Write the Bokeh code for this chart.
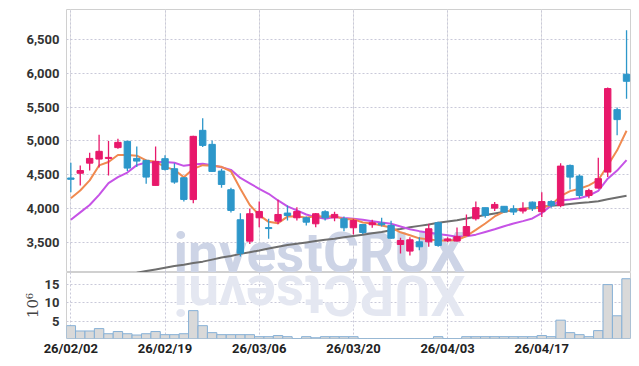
import numpy as np
from bokeh.plotting import figure
from bokeh.models import Range1d, FixedTicker, NumeralTickFormatter, ColumnDataSource, Grid
from bokeh.layouts import column
from bokeh.embed import file_html
from bokeh.resources import INLINE
from bokeh.core.properties import value

# ---------------- data ----------------
opens = [4450, 4520, 4670, 4730, 4740, 4900, 4993, 4740, 4711, 4340,
         4736, 4587, 4454, 4130, 5156, 4948, 4552, 4276, 3831, 3514,
         3860, 3715, 3810, 3930, 3860, 3860, 3771, 3950, 3860, 3845,
         3712, 3760, 3757, 3780, 3746, 3464, 3366, 3504, 3504, 3786,
         3520, 3515, 3597, 3846, 4010, 4003, 4030, 3994, 3960, 4092,
         3950, 4100, 4040, 4636, 4478, 4190, 4300, 4537, 5463, 5987]
highs = [4676, 4636, 4825, 5092, 4997, 5033, 5000, 4918, 4720, 4918,
         4785, 4670, 4460, 5075, 5334, 5007, 4587, 4305, 3929, 3999,
         4102, 3845, 4127, 4042, 4017, 3880, 3930, 3970, 3950, 3880,
         3845, 3760, 3830, 3860, 3816, 3563, 3573, 3573, 3772, 3800,
         3570, 3716, 3910, 4100, 4010, 4095, 4030, 4045, 4090, 4100,
         4240, 4120, 4670, 4650, 4503, 4290, 4750, 5790, 5493, 6640]
lows = [4240, 4340, 4562, 4607, 4488, 4884, 4552, 4611, 4365, 4340,
        4562, 4365, 4102, 4077, 4908, 4540, 4305, 3939, 3286, 3470,
        3721, 3550, 3764, 3820, 3820, 3746, 3721, 3820, 3810, 3660,
        3613, 3620, 3712, 3730, 3548, 3330, 3300, 3380, 3430, 3430,
        3500, 3510, 3590, 3820, 3860, 3960, 3930, 3900, 3925, 3960,
        3870, 4010, 4016, 4280, 4150, 4150, 4290, 4463, 5082, 5626]
closes = [4430, 4560, 4740, 4845, 4755, 4978, 4596, 4700, 4463, 4696,
          4577, 4389, 4132, 5067, 4933, 4547, 4354, 3969, 3335, 3920,
          3954, 3700, 3909, 3894, 3954, 3795, 3920, 3860, 3910, 3712,
          3820, 3643, 3786, 3757, 3557, 3523, 3534, 3430, 3697, 3450,
          3547, 3580, 3730, 4010, 3895, 4058, 3945, 3945, 4000, 3994,
          4100, 4040, 4626, 4463, 4190, 4265, 4440, 5775, 5315, 5883]
volumes = [3.8, 2.35, 2.35, 3.0, 1.6, 2.2, 1.6, 1.25, 1.6, 2.2,
           1.35, 1.35, 1.6, 7.9, 3.8, 1.9, 1.35, 1.35, 1.35, 1.35,
           0.8, 0.8, 1.1, 0.8, 0.3, 0.8, 0.5, 0.8, 0.8, 0.8,
           0.8, 0.3, 0.3, 0.3, 0.3, 0.3, 0.3, 0.3, 0.3, 0.8,
           0.3, 0.3, 0.8, 0.8, 0.8, 0.8, 0.8, 0.8, 0.8, 0.8,
           1.1, 0.8, 5.3, 1.9, 1.35, 0.8, 2.45, 15.0, 6.5, 16.6]
ma_short = [4150, 4265, 4414, 4636, 4686, 4790, 4790, 4780, 4710, 4690,
            4615, 4570, 4460, 4585, 4640, 4630, 4615, 4550, 4290, 4050,
            3900, 3800, 3780, 3878, 3882, 3860, 3885, 3875, 3885, 3840,
            3840, 3790, 3775, 3745, 3715, 3645, 3600, 3555, 3540, 3525,
            3522, 3530, 3590, 3680, 3775, 3880, 3950, 3980, 3995, 4000,
            4010, 4050, 4180, 4255, 4290, 4340, 4420, 4636, 4860, 5150]
ma_mid = [3830, 3940, 4050, 4200, 4375, 4463, 4530, 4640, 4680, 4686,
          4686, 4675, 4630, 4650, 4662, 4640, 4610, 4570, 4450, 4370,
          4290, 4216, 4117, 4028, 3969, 3909, 3870, 3845, 3870, 3855,
          3845, 3830, 3810, 3790, 3771, 3731, 3690, 3662, 3638, 3620,
          3600, 3580, 3585, 3610, 3650, 3690, 3735, 3775, 3810, 3850,
          3930, 4040, 4115, 4130, 4150, 4190, 4260, 4440, 4560, 4715]
ma_long_start = 7
ma_long = [3045, 3070, 3095, 3120, 3145, 3165, 3190, 3210, 3240, 3270,
           3295, 3325, 3350, 3375, 3405, 3430, 3455, 3475, 3495, 3515,
           3535, 3550, 3570, 3590, 3610, 3630, 3650, 3675, 3695, 3720,
           3740, 3760, 3785, 3805, 3825, 3850, 3875, 3900, 3925, 3950,
           3970, 3990, 4010, 4025, 4040, 4050, 4065, 4080, 4090, 4105,
           4135, 4160, 4185]
tick_idx = [0, 10, 20, 30, 40, 50]
tick_labels = ["26/02/02", "26/02/19", "26/03/06", "26/03/20", "26/04/03", "26/04/17"]
price_ticks = [3500, 4000, 4500, 5000, 5500, 6000, 6500]
vol_ticks = [5, 10, 15]

# ---------------- styling ----------------
UP = "#E8186B"
DOWN = "#2D97CA"
GRID = "#c9c9d9"
OUTLINE = "#d0d0d0"
FONT = "Roboto"

idx = list(range(len(closes)))
up = [c >= o for o, c in zip(opens, closes)]
src = ColumnDataSource(dict(
    x=idx, o=opens, h=highs, l=lows, c=closes,
    top=[max(o, c) for o, c in zip(opens, closes)],
    bot=[min(o, c) for o, c in zip(opens, closes)],
    col=[UP if u else DOWN for u in up],
))

x_range = Range1d(-0.46, 59.42)

p = figure(width=636, height=272, output_backend="svg", toolbar_location=None,
           x_range=x_range, y_range=Range1d(3049, 6947), x_axis_location=None,
           min_border_left=66, min_border_right=6, min_border_top=9, min_border_bottom=0)
p.outline_line_color = OUTLINE
p.background_fill_color = "white"

p.ygrid.ticker = FixedTicker(ticks=price_ticks)
p.ygrid.grid_line_color = GRID
p.ygrid.grid_line_dash = "2 2"
p.add_layout(Grid(dimension=0, ticker=FixedTicker(ticks=tick_idx),
                  grid_line_color=GRID, grid_line_dash="2 2"))

# watermark
p.text(x=[10.9], y=[3345], text=["investCRUX"], text_font=value(FONT),
       text_font_style="bold", text_font_size="55px", text_color="#CDD4E6",
       text_align="left", text_baseline="alphabetic")

p.line(idx[ma_long_start:], ma_long, line_color="#6E6E6E", line_width=2)
p.line(idx, ma_mid, line_color="#C653E6", line_width=2)
p.line(idx, ma_short, line_color="#F08A50", line_width=2)

p.segment(x0="x", y0="h", x1="x", y1="l", line_color="col", line_width=1.3, source=src)
p.vbar(x="x", top="top", bottom="bot", width=0.68, fill_color="col", line_color="col",
       line_width=1, source=src)

yax = p.yaxis[0]
yax.ticker = FixedTicker(ticks=price_ticks)
yax.formatter = NumeralTickFormatter(format="0,0")
yax.axis_line_color = None
yax.major_tick_line_color = None
yax.minor_tick_line_color = None
yax.major_label_standoff = 1
yax.major_label_text_font = FONT
yax.major_label_text_font_style = "bold"
yax.major_label_text_font_size = "13px"
yax.major_label_text_color = "#333333"

# ---------------- volume panel ----------------
p2 = figure(width=636, height=94, output_backend="svg", toolbar_location=None,
            x_range=x_range, y_range=Range1d(0.3, 18.3),
            min_border_left=66, min_border_right=6, min_border_top=0, min_border_bottom=28)
p2.outline_line_color = OUTLINE
p2.ygrid.ticker = FixedTicker(ticks=vol_ticks)
p2.ygrid.grid_line_color = GRID
p2.ygrid.grid_line_dash = "2 2"
p2.xgrid.ticker = FixedTicker(ticks=tick_idx)
p2.xgrid.grid_line_color = GRID
p2.xgrid.grid_line_dash = "2 2"

# mirrored watermark reflection
p2.text(x=[10.9], y=[12.2], text=["XURCtsevni"], angle=np.pi, text_font=value(FONT),
        text_font_style="bold", text_font_size="55px", text_color="#E4E7F1",
        text_align="right", text_baseline="alphabetic")

p2.vbar(x=idx, top=volumes, bottom=0, width=1.0, fill_color="#d9d9d9",
        line_color="#86B0D6", line_width=1)

xax = p2.xaxis[0]
xax.ticker = FixedTicker(ticks=tick_idx)
xax.major_label_overrides = {t: lab for t, lab in zip(tick_idx, tick_labels)}
xax.axis_line_color = None
xax.major_tick_line_color = None
xax.minor_tick_line_color = None
xax.major_label_standoff = -4
xax.major_label_text_font = FONT
xax.major_label_text_font_style = "bold"
xax.major_label_text_font_size = "13px"
xax.major_label_text_color = "#222222"

vax = p2.yaxis[0]
vax.ticker = FixedTicker(ticks=vol_ticks)
vax.axis_line_color = None
vax.major_tick_line_color = None
vax.minor_tick_line_color = None
vax.major_label_standoff = 1
vax.major_label_text_font = FONT
vax.major_label_text_font_style = "bold"
vax.major_label_text_font_size = "13px"
vax.major_label_text_color = "#333333"
vax.axis_label = "10\u2076"
vax.axis_label_text_font = "DejaVu Serif"
vax.axis_label_text_font_style = "normal"
vax.axis_label_text_font_size = "15px"
vax.axis_label_text_color = "#444444"
vax.axis_label_standoff = 0

layout = column(p, p2)
open("out.html", "w").write(file_html(layout, INLINE))
